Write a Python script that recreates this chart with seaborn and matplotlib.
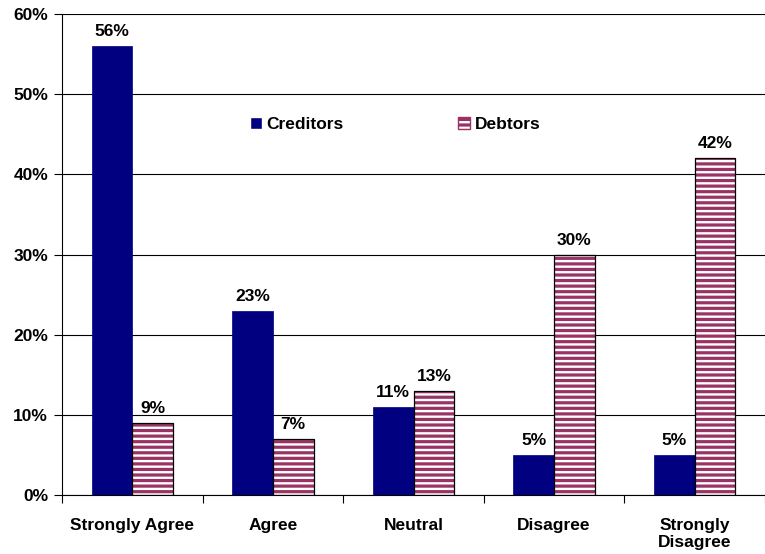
import matplotlib
matplotlib.use("Agg")
import matplotlib.pyplot as plt
import seaborn as sns
import pandas as pd
from matplotlib.patches import Rectangle
from matplotlib.ticker import FuncFormatter, FixedLocator

categories = ["Strongly Agree", "Agree", "Neutral", "Disagree", "Strongly\nDisagree"]
creditors = [56, 23, 11, 5, 5]
debtors = [9, 7, 13, 30, 42]
series = ["Creditors", "Debtors"]

df = pd.DataFrame({
    "category": categories * 2,
    "group": [series[0]] * len(categories) + [series[1]] * len(categories),
    "value": creditors + debtors,
})

sns.set_style("white")
plt.rcParams["font.family"] = ["Liberation Sans", "DejaVu Sans"]
plt.rcParams["font.weight"] = "bold"
plt.rcParams["hatch.linewidth"] = 2.3
plt.rcParams["text.color"] = "black"
plt.rcParams["xtick.color"] = "black"
plt.rcParams["ytick.color"] = "black"
plt.rcParams["axes.labelcolor"] = "black"

STRIPE = "#993366"
NAVY = "#000080"
FS = 12.5

fig = plt.figure(figsize=(7.65, 5.54), dpi=100)
ax = fig.add_axes([62 / 765, 1 - 495 / 554, (765 - 62) / 765, (495 - 14) / 554])

sns.barplot(data=df, x="category", y="value", hue="group",
            palette={"Creditors": NAVY, "Debtors": "#ffffff"},
            width=0.58, saturation=1, ax=ax, legend=True)

n = len(categories)
for i, p in enumerate(ax.patches[:2 * n]):
    if i < n:
        p.set_edgecolor(NAVY)
        p.set_linewidth(0.5)
    else:
        # striped fill, then a thin black outline on top
        p.set_facecolor("white")
        p.set_hatch("---")
        p.set_edgecolor(STRIPE)
        p.set_linewidth(0)
        ax.add_patch(Rectangle((p.get_x(), p.get_y()), p.get_width(), p.get_height(),
                               fill=False, edgecolor="black", linewidth=0.9,
                               zorder=p.get_zorder() + 0.1))

for cont in ax.containers:
    ax.bar_label(cont, labels=[f"{v:.0f}%" for v in cont.datavalues],
                 padding=5, fontsize=FS, fontweight="bold", color="black")

ax.set_ylim(0, 60)
ax.set_xlim(-0.5, n - 0.5)
ax.yaxis.set_major_locator(FixedLocator(range(0, 61, 10)))
ax.yaxis.set_major_formatter(FuncFormatter(lambda v, _: f"{v:.0f}%"))
ax.grid(axis="y", color="black", linewidth=0.8)
ax.set_axisbelow(True)
ax.set_xlabel("")
ax.set_ylabel("")

for s in ["top", "right"]:
    ax.spines[s].set_visible(False)
for s in ["left", "bottom"]:
    ax.spines[s].set_color("black")
    ax.spines[s].set_linewidth(0.8)

ax.tick_params(axis="y", which="both", left=True, length=6, width=0.8,
               color="black", labelcolor="black", labelsize=FS, pad=4)
ax.tick_params(axis="x", which="major", bottom=False, labelcolor="black",
               labelsize=FS, pad=13)
ax.set_xticks(range(n))
ax.set_xticklabels(categories, fontweight="bold")
ax.set_xticks([i + 0.5 for i in range(-1, n)], minor=True)
ax.tick_params(axis="x", which="minor", bottom=True, length=6, width=0.8, color="black")
for lbl in ax.get_yticklabels():
    lbl.set_fontweight("bold")

handles, labels = ax.get_legend_handles_labels()
handles[1].set_hatch("---")
handles[1].set_edgecolor(STRIPE)
leg = ax.legend(handles, labels, loc="center", bbox_to_anchor=(0.474, 0.77), ncol=2,
                frameon=False, columnspacing=6.6, handlelength=0.7, handleheight=0.7,
                handletextpad=0.25, prop={"size": FS, "weight": "bold"})
for t in leg.get_texts():
    t.set_color("black")

fig.savefig("out.png", dpi=100)
